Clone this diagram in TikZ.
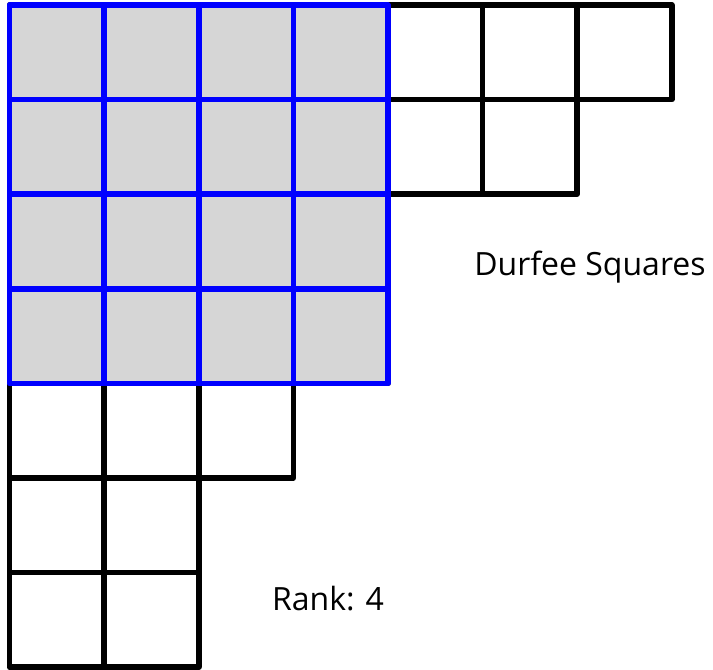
\documentclass[tikz,border=0pt]{standalone}
\usepackage{fontspec}
\setmainfont{Open Sans}
\begin{document}
\begin{tikzpicture}[x=1pt,y=-1pt,
  cellline/.style={line width=5.6pt,line join=round,line cap=round},
  blackcell/.style={cellline,draw=black},
  bluecell/.style={cellline,draw=blue},
  lbl/.style={font=\fontsize{32}{38}\selectfont,inner sep=0pt}]
\useasboundingbox (0,0) rectangle (713,670);
\def\c{94.6}
% row lengths
\foreach \r/\n in {0/7,1/6,2/4,3/4,4/3,5/2,6/2}{
  \foreach \k in {1,...,\n}{
    \draw[blackcell] ({9.5+(\k-1)*\c},{5+\r*\c}) rectangle ++(\c,\c);
  }
}
\fill[black!16] (9.5,5) rectangle ++({4*\c},{4*\c});
\foreach \r in {0,...,3}{
  \foreach \k in {0,...,3}{
    \draw[bluecell] ({9.5+\k*\c},{5+\r*\c}) rectangle ++(\c,\c);
  }
}
\node[lbl] (durfee) at (590,267) {Durfee Squares};
\node[lbl] (rank) at (328,599) {Rank: 4};
\end{tikzpicture}
\end{document}
